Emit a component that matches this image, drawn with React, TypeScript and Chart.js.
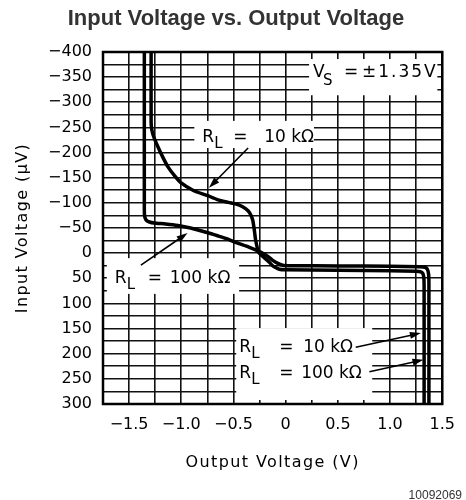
import React, { useEffect, useRef } from 'react';
import { Chart, registerables } from 'chart.js';

Chart.register(...registerables);

// ---- Data (output voltage in V, input voltage in µV) ----
const outputV_10k = [
  -1.289, -1.289, -1.282, -1.265, -1.225, -1.175, -1.126, -1.065, -1.005, -0.88,
  -0.754, -0.661, -0.55, -0.45, -0.381, -0.345, -0.316, -0.3, -0.288, -0.26,
  -0.21, -0.167, -0.13, -0.102, -0.06, -0.009, 0.5, 1.0, 1.25, 1.29,
  1.312, 1.323, 1.326, 1.326,
];
const inputUV_10k = [
  -400, -260, -245, -232, -212, -190, -171, -154, -140, -124,
  -115, -107, -101, -96, -88, -80, -66, -45, -26, -2,
  8, 16, 24, 28, 32, 33, 34, 35, 36, 37,
  40, 48, 65, 300,
];

const outputV_100k = [
  -1.354, -1.354, -1.35, -1.333, -1.305, -1.26, -1.15, -1.033, -0.912, -0.754,
  -0.661, -0.567, -0.474, -0.353, -0.241, -0.167, -0.12, -0.08, -0.03, 0.05,
  0.5, 1.0, 1.28, 1.335, 1.357, 1.369, 1.372, 1.372,
];
const inputUV_100k = [
  -400, -85, -72, -65, -62, -60, -58, -55, -50, -41,
  -35, -29, -21, -12, -2, 7, 15, 20, 24, 25,
  25.5, 26, 27, 28, 32, 42, 60, 300,
];

// ---- Axes ----
const X_MIN = -1.75;
const X_MAX = 1.5;
const X_STEP = 0.25;
const Y_MIN = -400;
const Y_MAX = 300;
const Y_STEP = 25;
const xLabelValues = [-1.5, -1.0, -0.5, 0, 0.5, 1.0, 1.5];
const yLabelValues = [-400, -350, -300, -250, -200, -150, -100, -50, 0, 50, 100, 150, 200, 250, 300];

const TITLE = 'Input Voltage vs. Output Voltage';
const X_TITLE = 'Output Voltage (V)';
const Y_TITLE = 'Input Voltage (\u00B5V)';
const FIG_NO = '10092069';

// ---- Annotations (in data coordinates) ----
const maskBoxes = [
  { x0: 0.224, x1: 1.453, y0: -386, y1: -314 },
  { x0: -0.875, x1: 0.271, y0: -263, y1: -209 },
  { x0: -1.713, x1: -0.446, y0: 10, y1: 81 },
  { x0: -0.474, x1: 0.829, y0: 149, y1: 292 },
];
const rlLabels = [
  { x: -0.8, y: -221, value: '10 k\u03A9', eqDx: 31, valDx: 62 },
  { x: -1.638, y: 59, value: '100 k\u03A9', eqDx: 33, valDx: 55 },
  { x: -0.446, y: 197, value: '10 k\u03A9', eqDx: 40, valDx: 64 },
  { x: -0.446, y: 248, value: '100 k\u03A9', eqDx: 40, valDx: 62 },
];
const vsLabel = { x: 0.261, y: -350, value: '\u00B11.35V' };
const arrows = [
  { x1: -0.36, y1: -209, x2: -0.735, y2: -130 },
  { x1: -1.387, y1: 24, x2: -0.94, y2: -40 },
  { x1: 0.671, y1: 187, x2: 1.295, y2: 159 },
  { x1: 0.802, y1: 236, x2: 1.32, y2: 212 },
];

const FONT = '"DejaVu Sans", sans-serif';

function fmtX(v: number): string {
  if (Math.abs(v) < 1e-9) return '0';
  return (v < 0 ? '\u2212' : '') + Math.abs(v).toFixed(1);
}
function fmtY(v: number): string {
  return v < 0 ? '\u2212' + Math.abs(v) : String(v);
}

function drawArrow(ctx: CanvasRenderingContext2D, x1: number, y1: number, x2: number, y2: number) {
  const ang = Math.atan2(y2 - y1, x2 - x1);
  const c = Math.cos(ang);
  const s = Math.sin(ang);
  const L = 11;
  const W = 3.5;
  ctx.beginPath();
  ctx.moveTo(x1, y1);
  ctx.lineTo(x2 - c * L * 0.8, y2 - s * L * 0.8);
  ctx.lineWidth = 1.6;
  ctx.stroke();
  ctx.beginPath();
  ctx.moveTo(x2, y2);
  ctx.lineTo(x2 - L * c + W * s, y2 - L * s - W * c);
  ctx.lineTo(x2 - L * c - W * s, y2 - L * s + W * c);
  ctx.closePath();
  ctx.fill();
}

const decorPlugin = {
  id: 'decor',
  beforeDatasetsDraw(chart: any) {
    const { ctx, chartArea: a } = chart;
    const xs = chart.scales.x;
    const ys = chart.scales.y;
    ctx.save();
    ctx.fillStyle = '#fff';
    for (const b of maskBoxes) {
      const l = Math.max(xs.getPixelForValue(b.x0), a.left + 2);
      const r = Math.min(xs.getPixelForValue(b.x1), a.right - 2);
      const t = Math.max(ys.getPixelForValue(b.y0), a.top + 2);
      const bt = Math.min(ys.getPixelForValue(b.y1), a.bottom - 2);
      ctx.fillRect(l, t, r - l, bt - t);
    }
    ctx.restore();
  },
  afterDatasetsDraw(chart: any) {
    const { ctx, chartArea: a } = chart;
    const xs = chart.scales.x;
    const ys = chart.scales.y;
    ctx.save();
    // frame
    ctx.strokeStyle = '#000';
    ctx.lineWidth = 2.5;
    ctx.strokeRect(a.left, a.top, a.right - a.left, a.bottom - a.top);
    // arrows
    ctx.fillStyle = '#000';
    for (const ar of arrows) {
      drawArrow(
        ctx,
        xs.getPixelForValue(ar.x1), ys.getPixelForValue(ar.y1),
        xs.getPixelForValue(ar.x2), ys.getPixelForValue(ar.y2)
      );
    }
    // labels
    ctx.textAlign = 'left';
    ctx.textBaseline = 'alphabetic';
    for (const lb of rlLabels) {
      const px = xs.getPixelForValue(lb.x);
      const py = ys.getPixelForValue(lb.y);
      ctx.font = '17px ' + FONT;
      ctx.fillText('R', px, py);
      ctx.font = '15px ' + FONT;
      ctx.fillText('L', px + 12, py + 6);
      ctx.font = '17px ' + FONT;
      ctx.fillText('=', px + lb.eqDx, py);
      ctx.fillText(lb.value, px + lb.valDx, py);
    }
    {
      const px = xs.getPixelForValue(vsLabel.x);
      const py = ys.getPixelForValue(vsLabel.y);
      ctx.font = '17px ' + FONT;
      ctx.fillText('V', px, py);
      ctx.font = '15px ' + FONT;
      ctx.fillText('S', px + 10, py + 8);
      ctx.font = '17px ' + FONT;
      ctx.fillText('=', px + 31, py);
      (ctx as any).letterSpacing = '2px';
      ctx.fillText(vsLabel.value, px + 49, py);
      (ctx as any).letterSpacing = '0px';
    }
    ctx.restore();
  },
  afterDraw(chart: any) {
    const { ctx, chartArea: a } = chart;
    ctx.save();
    // chart title
    ctx.fillStyle = '#333';
    ctx.font = 'bold 22px "Liberation Sans", Arial, sans-serif';
    ctx.textAlign = 'center';
    ctx.textBaseline = 'alphabetic';
    ctx.fillText(TITLE, 236, 25);
    // axis titles
    ctx.fillStyle = '#000';
    ctx.font = '16px ' + FONT;
    (ctx as any).letterSpacing = '1.4px';
    ctx.fillText(X_TITLE, (a.left + a.right) / 2, 467);
    ctx.save();
    ctx.translate(27, (a.top + a.bottom) / 2);
    ctx.rotate(-Math.PI / 2);
    ctx.fillText(Y_TITLE, 0, 0);
    ctx.restore();
    (ctx as any).letterSpacing = '0px';
    // figure number
    ctx.fillStyle = '#333';
    ctx.font = '12px "Liberation Sans", Arial, sans-serif';
    ctx.textAlign = 'right';
    ctx.fillText(FIG_NO, 462, 499);
    ctx.restore();
  },
};

export default function App() {
  const ref = useRef<HTMLCanvasElement | null>(null);
  useEffect(() => {
    if (!ref.current) return;
    const chart = new Chart(ref.current, {
      type: 'scatter',
      data: {
        datasets: [
          {
            label: 'RL = 10 k\u03A9',
            data: outputV_10k.map((v, i) => ({ x: v, y: inputUV_10k[i] })),
            showLine: true,
            borderColor: '#000',
            backgroundColor: '#000',
            borderWidth: 3.5,
            pointRadius: 0,
            tension: 0.2,
            fill: false,
          },
          {
            label: 'RL = 100 k\u03A9',
            data: outputV_100k.map((v, i) => ({ x: v, y: inputUV_100k[i] })),
            showLine: true,
            borderColor: '#000',
            backgroundColor: '#000',
            borderWidth: 3.5,
            pointRadius: 0,
            tension: 0.2,
            fill: false,
          },
        ],
      },
      options: {
        animation: false,
        responsive: false,
        devicePixelRatio: 1,
        layout: { padding: { top: 52, right: 14, bottom: 0, left: 0 } },
        plugins: {
          legend: { display: false },
          tooltip: { enabled: false },
          title: { display: false },
        },
        scales: {
          x: {
            type: 'linear',
            min: X_MIN,
            max: X_MAX,
            afterFit: (s: any) => { s.height = 96; },
            ticks: {
              stepSize: X_STEP,
              autoSkip: false,
              maxRotation: 0,
              padding: 11,
              color: '#000',
              font: { family: FONT, size: 16 },
              callback: (v: any) => {
                const n = Number(v);
                return xLabelValues.some((t) => Math.abs(t - n) < 1e-6) ? fmtX(n) : '';
              },
            },
            grid: { color: '#111', lineWidth: 1.6, drawTicks: false },
            border: { display: false },
          },
          y: {
            type: 'linear',
            reverse: true,
            min: Y_MIN,
            max: Y_MAX,
            afterFit: (s: any) => { s.width = 103; },
            ticks: {
              stepSize: Y_STEP,
              autoSkip: false,
              padding: 11,
              color: '#000',
              font: { family: FONT, size: 16 },
              callback: (v: any) => {
                const n = Number(v);
                return yLabelValues.some((t) => Math.abs(t - n) < 1e-6) ? fmtY(n) : '';
              },
            },
            grid: { color: '#111', lineWidth: 1.6, drawTicks: false },
            border: { display: false },
          },
        },
      } as any,
      plugins: [decorPlugin as any],
    });
    return () => chart.destroy();
  }, []);

  return (
    <div style={{ position: 'absolute', left: 0, top: 0, width: 466, height: 500, background: '#fff' }}>
      <canvas ref={ref} width={466} height={500} style={{ width: 466, height: 500, display: 'block' }} />
    </div>
  );
}
